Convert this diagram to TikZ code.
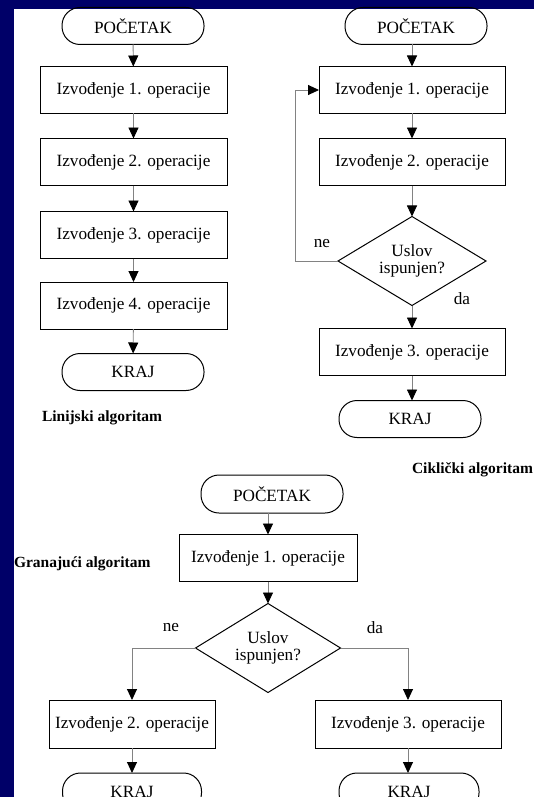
\documentclass[tikz,border=0pt]{standalone}
\usepackage{fontspec}
\setmainfont{Liberation Serif}
\usetikzlibrary{arrows.meta,shapes.geometric}
\definecolor{navy}{RGB}{0,0,104}
\definecolor{wire}{RGB}{130,130,130}
\begin{document}
\begin{tikzpicture}[x=1pt,y=-1pt,
  every node/.style={font=\fontsize{17.2}{17}\selectfont, inner sep=0pt, outer sep=0pt},
  term/.style={draw, line width=1pt, rounded corners=18pt, minimum width=142pt, minimum height=37pt},
  proc/.style={draw, line width=1pt, minimum width=187pt, minimum height=47pt},
  cond/.style={draw, diamond, line width=1pt, aspect=1.66, minimum width=148pt, minimum height=89pt, align=center},
  caption/.style={font=\bfseries\fontsize{15.5}{15.5}\selectfont},
  tag/.style={},
  conn/.style={draw=wire, line width=0.9pt, -{Triangle[length=11pt,width=10pt,color=black,fill=black]}}]

\useasboundingbox (0,0) rectangle (534,797);
\fill[white] (0,0) rectangle (534,797);
% frame strips
\fill[navy] (0,0) rectangle (534,9);
\fill[navy] (0,0) rectangle (14,797);

% --- linear algorithm ---
\node[term] (s1) at (133,26) {POČETAK};
\node[proc] (a1) at (133.5,90) {Izvođenje 1. operacije};
\node[proc] (a2) at (133.5,162) {Izvođenje 2. operacije};
\node[proc] (a3) at (133.5,235) {Izvođenje 3. operacije};
\node[proc] (a4) at (133.5,305.5) {Izvođenje 4. operacije};
\node[term] (e1) at (133,372) {KRAJ};
\node[caption, anchor=west] (l1) at (42,418) {Linijski algoritam};
\draw[conn] (s1) -- (a1);
\draw[conn] (a1) -- (a2);
\draw[conn] (a2) -- (a3);
\draw[conn] (a3) -- (a4);
\draw[conn] (a4) -- (e1);

% --- cyclic algorithm ---
\node[term] (s2) at (416,26) {POČETAK};
\node[proc, minimum width=186pt] (b1) at (412,90) {Izvođenje 1. operacije};
\node[proc, minimum width=186pt] (b2) at (412,162) {Izvođenje 2. operacije};
\node[cond] (d1) at (412,261) {Uslov\\ispunjen?};
\node[proc, minimum width=186pt] (b3) at (412,352) {Izvođenje 3. operacije};
\node[term, minimum width=142pt] (e2) at (410,419) {KRAJ};
\node[caption, anchor=west] (l2) at (412,470) {Ciklički algoritam};
\node[tag] (ne1) at (322,244) {ne};
\node[tag] (da1) at (462,299) {da};
\coordinate (lp) at (295,90);
\draw[conn] (s2.south -| b1.north) -- (b1);
\draw[conn] (b1) -- (b2);
\draw[conn] (b2) -- (d1);
\draw[conn] (d1) -- (b3);
\draw[conn] (b3.south) -- (b3.south |- e2.north);
\draw[conn] (d1.west) -| (lp) -- (b1.west);

% --- branching algorithm ---
\node[term, minimum width=142pt, minimum height=38pt] (s3) at (272,494) {POČETAK};
\node[proc, minimum width=178pt] (c1) at (268,558) {Izvođenje 1. operacije};
\node[caption, anchor=west] (l3) at (14,564) {Granajući algoritam};
\node[cond, minimum width=145pt] (d2) at (268,648) {Uslov\\ispunjen?};
\node[tag] (ne2) at (171,628) {ne};
\node[tag] (da2) at (375,628) {da};
\node[proc, minimum width=166pt, minimum height=48pt] (c2) at (132,724) {Izvođenje 2. operacije};
\node[proc, minimum width=186pt, minimum height=48pt] (c3) at (408,724) {Izvođenje 3. operacije};
\node[term, minimum width=139pt, minimum height=38pt] (e3) at (132,792) {KRAJ};
\node[term, minimum width=140pt, minimum height=38pt] (e4) at (409,792) {KRAJ};
\draw[conn] (s3.south -| c1.north) -- (c1);
\draw[conn] (c1) -- (d2);
\draw[conn] (d2.west) -| (c2.north);
\draw[conn] (d2.east) -| (c3.north);
\draw[conn] (c2.south) -- (c2.south |- e3.north);
\draw[conn] (c3.south) -- (c3.south |- e4.north);
\end{tikzpicture}
\end{document}
